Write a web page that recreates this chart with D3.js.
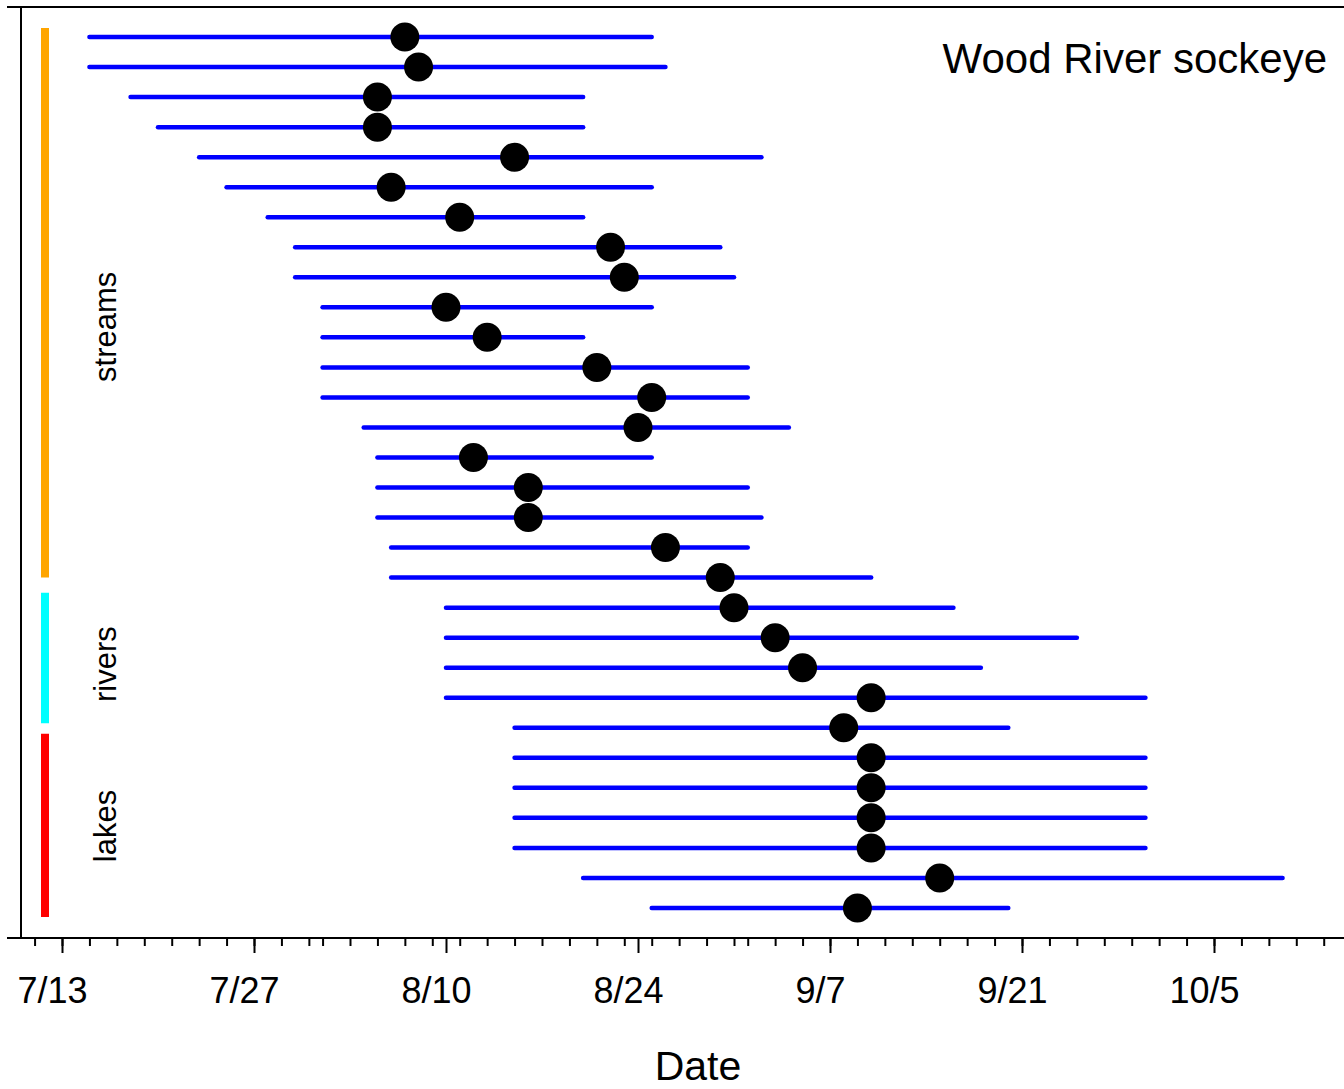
<!DOCTYPE html>
<html>
<head>
<meta charset="utf-8">
<script src="https://cdn.jsdelivr.net/npm/d3@7"></script>
<style>
    body { margin: 0; background: #fff; }
    svg { display: block; font-family: "Liberation Sans", Arial, Helvetica, sans-serif; }
</style>
</head>
<body>
<svg id="chart" width="1344" height="1089"></svg>
<script>
// One row per population, top to bottom: start, peak and end of the run.
const runStart = ['7/15', '7/15', '7/18', '7/20', '7/23', '7/25', '7/28', '7/30', '7/30', '8/1',
    '8/1', '8/1', '8/1', '8/4', '8/5', '8/5', '8/5', '8/6', '8/6', '8/10',
    '8/10', '8/10', '8/10', '8/15', '8/15', '8/15', '8/15', '8/15', '8/20', '8/25'];
const runPeak = ['8/7', '8/8', '8/5', '8/5', '8/15', '8/6', '8/11', '8/22', '8/23', '8/10',
    '8/13', '8/21', '8/25', '8/24', '8/12', '8/16', '8/16', '8/26', '8/30', '8/31',
    '9/3', '9/5', '9/10', '9/8', '9/10', '9/10', '9/10', '9/10', '9/15', '9/9'];
const runEnd = ['8/25', '8/26', '8/20', '8/20', '9/2', '8/25', '8/20', '8/30', '8/31', '8/25',
    '8/20', '9/1', '9/1', '9/4', '8/25', '9/1', '9/2', '9/1', '9/10', '9/16',
    '9/25', '9/18', '9/30', '9/20', '9/30', '9/30', '9/30', '9/30', '10/10', '9/20'];

// Habitat groups: extent along the row axis and where the label sits.
const groupNames = ['streams', 'rivers', 'lakes'];
const groupColors = ['#ffa500', '#00ffff', '#ff0000'];
const groupFrom = [0.7, 19.5, 24.2];
const groupTo = [19.0, 23.85, 30.3];
const groupLabelAt = [10.65, 21.88, 27.27];

const majorTicks = ['7/13', '7/27', '8/10', '8/24', '9/7', '9/21', '10/5'];

const parse = d3.utcParse('%m/%d');
const fmt = d3.utcFormat('%-m/%-d');

const rows = runStart.map((s, i) => ({
    row: i + 1,
    start: parse(s),
    peak: parse(runPeak[i]),
    end: parse(runEnd[i]),
}));

const svg = d3.select('#chart');

const x = d3.scaleUtc()
    .domain([parse('7/13'), parse('10/5')])
    .range([62, 1214]);
const y = d3.scaleLinear()
    .domain([0, 31])
    .range([7, 938]);

const xLeft = 21;
const xRight = 1344;

// Frame: top line, left axis line, bottom axis line
svg.append('line')
    .attr('x1', 7).attr('x2', xRight)
    .attr('y1', y(0)).attr('y2', y(0))
    .attr('stroke', '#000').attr('stroke-width', 2);
svg.append('line')
    .attr('x1', xLeft).attr('x2', xLeft)
    .attr('y1', y(0)).attr('y2', y(31))
    .attr('stroke', '#000').attr('stroke-width', 2);

// Minor ticks every 2 days, major ticks every 2 weeks
const minorTicks = d3.utcDay.every(2).range(x.invert(30), x.invert(xRight));
const minorAxis = d3.axisBottom(x)
    .tickValues(minorTicks)
    .tickSize(8)
    .tickFormat('');
const majorAxis = d3.axisBottom(x)
    .tickValues(majorTicks.map(parse))
    .tickSize(15)
    .tickPadding(0)
    .tickFormat(fmt);

const gMinor = svg.append('g')
    .attr('transform', `translate(0,${ y(31) })`)
    .call(minorAxis);
const gMajor = svg.append('g')
    .attr('transform', `translate(0,${ y(31) })`)
    .call(majorAxis);
for (const g of [gMinor, gMajor]) {
    g.select('.domain').remove();
    g.selectAll('line').attr('stroke', '#000').attr('stroke-width', 2);
}
gMajor.selectAll('text')
    .attr('y', 65)
    .attr('dy', 0)
    .attr('dx', -10)
    .attr('fill', '#000')
    .style('font-size', '36px')
    .style('font-family', '"Liberation Sans", Arial, sans-serif');

svg.append('line')
    .attr('x1', 7).attr('x2', xRight)
    .attr('y1', y(31)).attr('y2', y(31))
    .attr('stroke', '#000').attr('stroke-width', 2);

// Group bars and labels
const groups = groupNames.map((name, i) => ({
    name,
    color: groupColors[i],
    from: groupFrom[i],
    to: groupTo[i],
    labelAt: groupLabelAt[i],
}));
svg.append('g')
    .selectAll('line')
    .data(groups)
    .join('line')
    .attr('x1', 45).attr('x2', 45)
    .attr('y1', d => y(d.from))
    .attr('y2', d => y(d.to))
    .attr('stroke', d => d.color)
    .attr('stroke-width', 8);
svg.append('g')
    .selectAll('text')
    .data(groups)
    .join('text')
    .attr('transform', d => `translate(116,${ y(d.labelAt) }) rotate(-90)`)
    .attr('text-anchor', 'middle')
    .style('font-size', '31px')
    .text(d => d.name);

// Run timing lines
svg.append('g')
    .selectAll('line')
    .data(rows)
    .join('line')
    .attr('x1', d => x(d.start))
    .attr('x2', d => x(d.end))
    .attr('y1', d => y(d.row))
    .attr('y2', d => y(d.row))
    .attr('stroke', '#0000ff')
    .attr('stroke-width', 4.5)
    .attr('stroke-linecap', 'round');

// Peak dates
svg.append('g')
    .selectAll('circle')
    .data(rows)
    .join('circle')
    .attr('cx', d => x(d.peak))
    .attr('cy', d => y(d.row))
    .attr('r', 14.5)
    .attr('fill', '#000');

// Title and axis label
svg.append('text')
    .attr('x', 1327)
    .attr('y', 73)
    .attr('text-anchor', 'end')
    .style('font-size', '42px')
    .text('Wood River sockeye');
svg.append('text')
    .attr('x', 698)
    .attr('y', 1080)
    .attr('text-anchor', 'middle')
    .style('font-size', '41px')
    .text('Date');
</script>
</body>
</html>
